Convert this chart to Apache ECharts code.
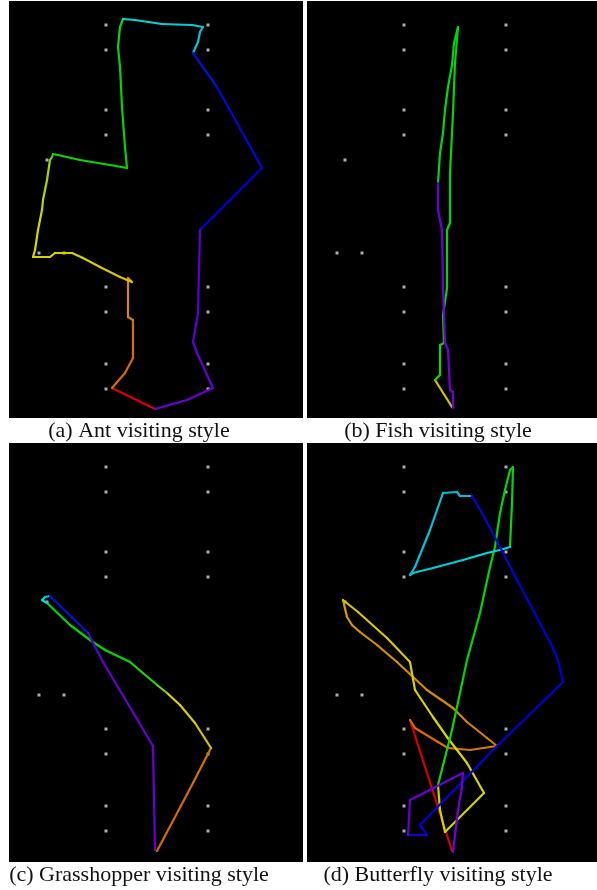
<!DOCTYPE html>
<html>
<head>
<meta charset="utf-8">
<script src="https://cdn.jsdelivr.net/npm/echarts@6/dist/echarts.min.js"></script>
<style>
html,body{margin:0;padding:0;background:#fff;}
#chart{width:597px;height:890px;}
</style>
</head>
<body>
<div id="chart"></div>
<script>
// Panel captions
const captions = ['(a) Ant visiting style', '(b) Fish visiting style', '(c) Grasshopper visiting style', '(d) Butterfly visiting style'];

// Visiting points (same layout in every panel), panel units
const visitPoints = [
  [97,24],[199,24],[97,49],[199,49],[97,109],[199,109],[97,134],[199,134],
  [38,159],[30,252],[55,252],
  [97,286],[199,286],[97,311],[199,311],[97,363],[199,363],[97,388],[199,388]
];

// Ant path (x, y in panel units) and hue of each step (visit order colour)
const antPath = [
  [146,408],[103,387],[116,372],[124,357],[124,319],[119,316],[119,277],[123,281],[111,276],[91,266],
  [74,257],[63,252],[46,252],[41,256],[24,256],[26,249],[29,229],[33,209],[34,199],[38,179],
  [41,159],[43,156],[44,153],[49,154],[71,159],[101,164],[118,167],[116,146],[113,106],[111,66],
  [109,46],[111,26],[114,18],[126,19],[153,23],[183,24],[194,26],[191,31],[189,41],[184,52],
  [208,86],[253,167],[191,229],[189,312],[184,341],[188,352],[204,387],[178,399],[146,408]
];
const antHue = [
  0,30,30,32,35,38,40,55,56,57,
  58,58,59,59,60,60,62,66,70,75,
  85,110,115,115,118,120,120,120,120,122,
  125,130,180,180,182,183,185,185,185,235,
  238,240,265,266,267,268,270,270
];

// Fish path
const fishPath = [
  [145,406],[128,379],[133,374],[133,344],[137,342],[136,314],[140,287],[140,229],[143,222],[143,172],
  [146,112],[148,62],[151,26],[147,42],[145,64],[141,86],[138,109],[136,132],[133,152],[131,182],
  [131,209],[135,229],[136,286],[138,342],[141,349],[143,389],[146,391],[146,407]
];
const fishHue = [
  55,110,115,115,117,117,118,118,119,119,
  120,120,122,124,124,125,125,126,127,270,
  270,270,271,271,272,272,272
];

// Grasshopper path
const grasshopperPath = [
  [148,408],[184,340],[202,305],[186,280],[171,262],[158,250],[148,242],[121,219],[96,207],[81,197],
  [61,182],[38,160],[33,157],[36,154],[41,153],[79,190],[94,219],[144,303],[146,407]
];
const grasshopperHue = [
  30,32,55,58,60,90,110,118,120,120,
  120,178,180,185,235,265,268,270
];

// Butterfly path
const butterflyPath = [
  [145,408],[103,277],[108,285],[131,299],[141,305],[163,307],[190,303],[180,295],[160,279],[146,265],
  [120,247],[90,219],[70,202],[53,189],[45,182],[40,174],[36,157],[51,169],[80,195],[103,219],
  [108,247],[126,274],[140,294],[160,320],[177,350],[138,389],[133,367],[131,342],[145,287],[153,250],
  [160,217],[173,170],[183,124],[188,104],[193,70],[198,47],[203,27],[206,24],[205,60],[203,104],
  [193,107],[180,110],[156,117],[126,125],[106,130],[103,132],[108,124],[123,87],[136,50],[150,49],
  [153,53],[165,53],[175,70],[193,104],[210,137],[226,167],[246,205],[251,217],[256,239],[190,303],
  [113,382],[120,392],[101,392],[103,357],[156,330],[155,344],[151,367],[146,409]
];
const butterflyHue = [
  0,30,30,32,33,34,35,36,37,38,
  39,40,40,42,43,44,55,56,57,58,
  59,60,60,61,62,63,65,115,118,120,
  120,120,120,121,122,123,124,125,126,180,
  180,181,182,183,184,185,185,185,186,187,
  188,238,238,239,240,240,240,240,240,241,
  242,243,268,270,270,271,272
];

const paths = [antPath, fishPath, grasshopperPath, butterflyPath];
const hues = [antHue, fishHue, grasshopperHue, butterflyHue];

// Layout (pixels)
const panels = [
  {left: 9,   top: 1,   width: 294, height: 417},
  {left: 307, top: 1,   width: 290, height: 417},
  {left: 9,   top: 443, width: 294, height: 419},
  {left: 307, top: 443, width: 290, height: 419}
];
const captionPos = [
  {x: 139, y: 420}, {x: 438, y: 420}, {x: 139, y: 864}, {x: 438, y: 864}
];

function hueColor(h) {
  return 'hsl(' + h + ',100%,42%)';
}

const grid = [], xAxis = [], yAxis = [], series = [], title = [];
panels.forEach(function (p, i) {
  grid.push({left: p.left, top: p.top, width: p.width, height: p.height,
    show: true, backgroundColor: '#000', borderWidth: 0, containLabel: false});
  xAxis.push({type: 'value', gridIndex: i, min: 0, max: p.width, show: false});
  yAxis.push({type: 'value', gridIndex: i, min: 0, max: p.height, inverse: true, show: false});
  series.push({
    type: 'scatter', xAxisIndex: i, yAxisIndex: i, data: visitPoints,
    symbol: 'rect', symbolSize: 3, itemStyle: {color: '#d8d8d8'}, silent: true, z: 1
  });
  const pts = paths[i], hs = hues[i];
  const segs = [];
  for (let k = 0; k < pts.length - 1; k++) {
    segs.push({coords: [pts[k], pts[k + 1]], lineStyle: {color: hueColor(hs[k])}});
  }
  series.push({
    type: 'lines', coordinateSystem: 'cartesian2d', xAxisIndex: i, yAxisIndex: i,
    data: segs, polyline: false, silent: true, z: 2,
    lineStyle: {width: 2.2, opacity: 1, cap: 'round', join: 'round'}
  });
  title.push({
    text: captions[i], left: captionPos[i].x, top: captionPos[i].y, textAlign: 'center', padding: 0,
    textStyle: {fontFamily: 'Liberation Serif', fontSize: 22, fontWeight: 'normal', color: '#111'}
  });
});

const chart = echarts.init(document.getElementById('chart'), null, {renderer: 'canvas'});
chart.setOption({
  backgroundColor: '#fff',
  animation: false,
  title: title,
  grid: grid,
  xAxis: xAxis,
  yAxis: yAxis,
  series: series
});
</script>
</body>
</html>
